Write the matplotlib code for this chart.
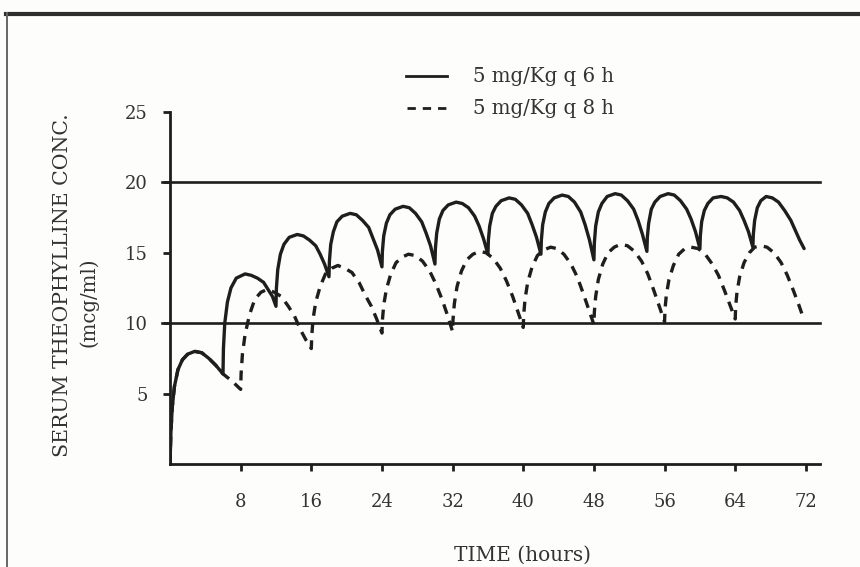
import matplotlib
matplotlib.use("Agg")
import matplotlib.pyplot as plt
from matplotlib.lines import Line2D

# ---- data ----
q6_t = [0.0, 0.1, 0.25, 0.5, 0.9, 1.4, 2.0, 2.8, 3.6, 4.4, 5.2, 6.0,
        6.05, 6.2, 6.5, 6.9, 7.5, 8.5, 9.2, 9.9, 10.6, 11.1, 11.6, 12.0,
        12.05, 12.2, 12.5, 12.9, 13.5, 14.4, 15.1, 15.8, 16.5, 17.0, 17.5, 18.0,
        18.05, 18.2, 18.5, 18.9, 19.5, 20.4, 21.1, 21.8, 22.5, 23.0, 23.5, 24.0,
        24.05, 24.2, 24.5, 24.9, 25.5, 26.4, 27.1, 27.8, 28.5, 29.0, 29.5, 30.0,
        30.05, 30.2, 30.5, 30.9, 31.5, 32.4, 33.1, 33.8, 34.5, 35.0, 35.5, 36.0,
        36.05, 36.2, 36.5, 36.9, 37.5, 38.4, 39.1, 39.8, 40.5, 41.0, 41.5, 42.0,
        42.05, 42.2, 42.5, 42.9, 43.5, 44.4, 45.1, 45.8, 46.5, 47.0, 47.5, 48.0,
        48.05, 48.2, 48.5, 48.9, 49.5, 50.4, 51.1, 51.8, 52.5, 53.0, 53.5, 54.0,
        54.05, 54.2, 54.5, 54.9, 55.5, 56.4, 57.1, 57.8, 58.5, 59.0, 59.5, 60.0,
        60.05, 60.2, 60.5, 60.9, 61.5, 62.4, 63.1, 63.8, 64.5, 65.0, 65.5, 66.0,
        66.05, 66.2, 66.5, 66.9, 67.5, 68.2, 68.9, 69.6, 70.3, 70.8, 71.3, 71.8]
q6_c = [0.0, 2.2, 4.0, 5.5, 6.7, 7.4, 7.8, 8.0, 7.9, 7.5, 7.0, 6.4,
        8.2, 10.0, 11.5, 12.5, 13.2, 13.5, 13.4, 13.2, 12.9, 12.4, 11.9, 11.2,
        12.5, 13.8, 14.9, 15.6, 16.1, 16.3, 16.2, 15.9, 15.5, 14.9, 14.2, 13.3,
        14.4, 15.6, 16.5, 17.2, 17.6, 17.8, 17.7, 17.3, 16.8, 16.0, 15.2, 14.0,
        15.1, 16.2, 17.1, 17.7, 18.1, 18.3, 18.2, 17.8, 17.2, 16.4, 15.5, 14.2,
        15.3, 16.4, 17.4, 18.0, 18.4, 18.6, 18.5, 18.2, 17.6, 16.9, 16.0, 14.9,
        15.9, 16.9, 17.8, 18.3, 18.7, 18.9, 18.8, 18.4, 17.8, 17.0, 16.1, 14.9,
        15.9, 17.0, 17.9, 18.5, 18.9, 19.1, 19.0, 18.6, 17.9, 17.0, 15.9, 14.5,
        15.7, 16.9, 17.9, 18.5, 19.0, 19.2, 19.1, 18.7, 18.1, 17.3, 16.3, 15.1,
        16.1, 17.1, 18.1, 18.6, 19.0, 19.2, 19.1, 18.7, 18.1, 17.4, 16.5, 15.3,
        16.2, 17.2, 18.0, 18.5, 18.9, 19.0, 18.9, 18.6, 18.0, 17.3, 16.5, 15.4,
        16.3, 17.3, 18.2, 18.7, 19.0, 18.9, 18.6, 18.0, 17.3, 16.6, 15.9, 15.3]

q8_t = [0.0, 0.1, 0.25, 0.5, 0.9, 1.4, 2.0, 2.8, 3.6, 4.4, 5.2, 6.0, 7.0, 8.0,
        8.05, 8.2, 8.5, 9.0, 9.6, 10.3, 11.0, 11.8, 12.6, 13.4, 14.1, 14.8, 15.4, 16.0,
        16.05, 16.2, 16.5, 17.0, 17.6, 18.3, 19.0, 19.8, 20.6, 21.4, 22.1, 22.8, 23.4, 24.0,
        24.05, 24.2, 24.5, 25.0, 25.6, 26.3, 27.0, 27.8, 28.6, 29.4, 30.1, 30.8, 31.4, 32.0,
        32.05, 32.2, 32.5, 33.0, 33.6, 34.3, 35.1, 35.8, 36.6, 37.4, 38.1, 38.8, 39.4, 40.0,
        40.05, 40.2, 40.5, 41.0, 41.6, 42.3, 43.1, 43.8, 44.6, 45.4, 46.1, 46.8, 47.4, 48.0,
        48.05, 48.2, 48.5, 49.0, 49.6, 50.3, 51.0, 51.8, 52.6, 53.4, 54.1, 54.8, 55.4, 56.0,
        56.05, 56.2, 56.5, 57.0, 57.6, 58.3, 59.0, 59.8, 60.6, 61.4, 62.1, 62.8, 63.4, 64.0,
        64.05, 64.2, 64.5, 65.0, 65.6, 66.2, 66.9, 67.6, 68.4, 69.2, 69.9, 70.6, 71.2, 71.7]
q8_c = [0.0, 2.2, 4.0, 5.5, 6.7, 7.4, 7.8, 8.0, 7.9, 7.5, 7.0, 6.4, 5.9, 5.3,
        6.4, 7.8, 9.2, 10.6, 11.7, 12.2, 12.4, 12.2, 11.9, 11.2, 10.5, 9.5, 8.8, 8.2,
        9.1, 10.3, 11.5, 12.6, 13.5, 13.9, 14.1, 13.9, 13.6, 12.9, 12.0, 11.2, 10.3, 9.3,
        10.2, 11.3, 12.4, 13.5, 14.3, 14.7, 14.9, 14.8, 14.4, 13.7, 12.8, 11.7, 10.6, 9.4,
        10.3, 11.4, 12.6, 13.7, 14.5, 14.9, 15.1, 15.0, 14.6, 13.9, 13.0, 11.9, 10.8, 9.7,
        10.6, 11.7, 12.9, 14.0, 14.8, 15.2, 15.4, 15.3, 14.9, 14.2, 13.3, 12.1, 11.0, 9.9,
        10.8, 11.9, 13.1, 14.2, 15.0, 15.4, 15.6, 15.5, 15.1, 14.4, 13.5, 12.3, 11.2, 10.1,
        11.0, 12.0, 13.1, 14.1, 14.9, 15.3, 15.4, 15.3, 14.9, 14.2, 13.4, 12.3, 11.3, 10.3,
        11.2, 12.2, 13.3, 14.3, 15.0, 15.4, 15.5, 15.4, 15.0, 14.3, 13.4, 12.3, 11.3, 10.4]

ref_levels = [10, 20]
x_ticks = [8, 16, 24, 32, 40, 48, 56, 64, 72]
y_ticks = [5, 10, 15, 20, 25]
legend_labels = ["5 mg/Kg q 6 h", "5 mg/Kg q 8 h"]
x_label = "TIME (hours)"
y_label = "SERUM THEOPHYLLINE CONC."
y_unit = "(mcg/ml)"

ink = "#1e1e1e"
txt = "#333333"
font = "DejaVu Serif"

fig = plt.figure(figsize=(8.6, 5.67), dpi=100, facecolor="#fdfdfc")
W, H = 860, 567
ax = fig.add_axes([170 / W, 1 - 464 / H, (820 - 170) / W, (464 - 112) / H])
ax.set_facecolor("none")
ax.set_xlim(0, 73.6)
ax.set_ylim(0, 25)

for lv in ref_levels:
    ax.axhline(lv, xmin=-0.012, xmax=1.0, color=ink, lw=1.9, clip_on=False, zorder=2)

ax.plot(q8_t, q8_c, color=ink, lw=2.4, linestyle=(0, (3.0, 2.2)),
        dash_capstyle="butt", zorder=3)
ax.plot(q6_t, q6_c, color=ink, lw=2.4, solid_joinstyle="round",
        solid_capstyle="round", zorder=4)

for s in ["top", "right"]:
    ax.spines[s].set_visible(False)
for s in ["left", "bottom"]:
    ax.spines[s].set_linewidth(2.0)
    ax.spines[s].set_color(ink)

ax.set_xticks(x_ticks)
ax.set_yticks(y_ticks)
ax.tick_params(axis="both", direction="out", length=5, width=2.0, color=ink,
               labelsize=13, labelcolor=txt)
ax.tick_params(axis="x", pad=16)
ax.tick_params(axis="y", pad=11)
for lab in ax.get_xticklabels() + ax.get_yticklabels():
    lab.set_fontfamily(font)

fig.text(522 / W, 1 - 555 / H, x_label, ha="center", va="center",
         fontsize=14.5, family=font, color=txt)
fig.text(62 / W, 1 - 285 / H, y_label, ha="center", va="center", rotation=90,
         fontsize=14.8, family=font, color=txt)
fig.text(89 / W, 1 - 302 / H, y_unit, ha="center", va="center", rotation=90,
         fontsize=14.2, family=font, color=txt)

# legend drawn in figure coordinates
fig.add_artist(Line2D([406 / W, 447 / W], [1 - 76 / H] * 2, color=ink, lw=2.0))
fig.add_artist(Line2D([407 / W, 447 / W], [1 - 108 / H] * 2, color=ink, lw=2.0,
                      linestyle=(0, (3.0, 2.5))))
fig.text(473 / W, 1 - 76 / H, legend_labels[0], ha="left", va="center",
         fontsize=14.2, family=font, color=txt)
fig.text(473 / W, 1 - 108 / H, legend_labels[1], ha="left", va="center",
         fontsize=14.2, family=font, color=txt)

# page border
fig.add_artist(Line2D([6 / W, 1], [1 - 14 / H] * 2, color="#2e2e2e", lw=3.0))
fig.add_artist(Line2D([7 / W] * 2, [0, 1 - 13 / H], color="#666666", lw=1.4))

fig.savefig("out.png", dpi=100, facecolor=fig.get_facecolor())
